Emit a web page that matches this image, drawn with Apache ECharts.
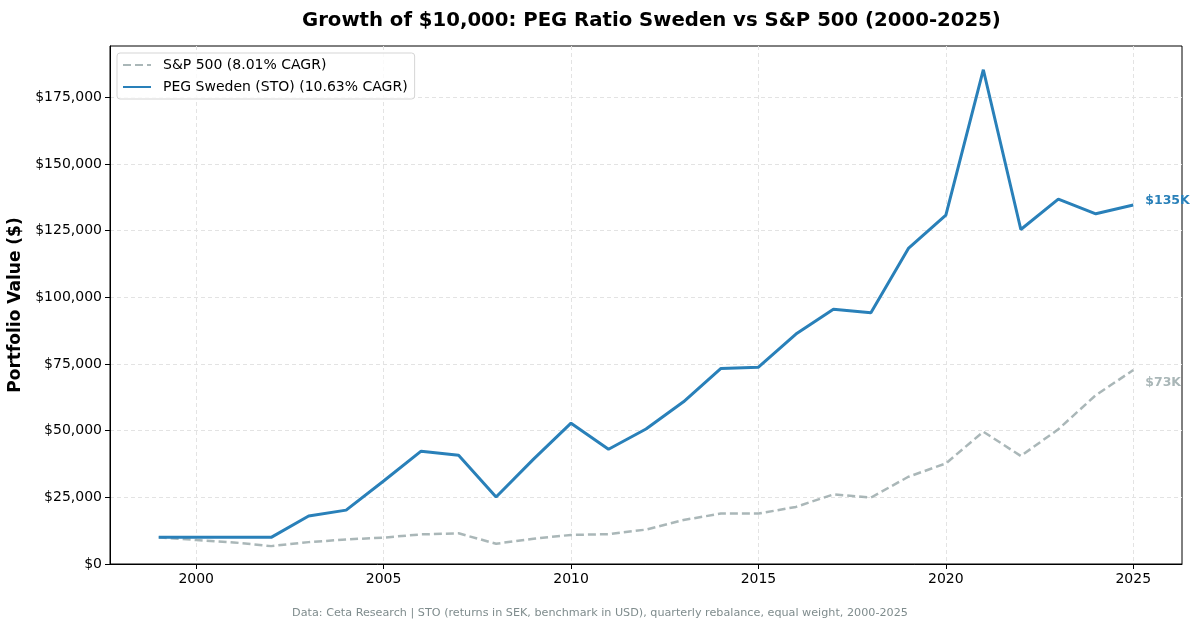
<!DOCTYPE html>
<html>
<head>
<meta charset="utf-8">
<script src="https://cdn.jsdelivr.net/npm/echarts@6/dist/echarts.min.js"></script>
<style>
html,body{margin:0;padding:0;background:#fff;}
#chart{width:1200px;height:628px;}
</style>
</head>
<body>
<div id="chart"></div>
<script>
const years = [1999,2000,2001,2002,2003,2004,2005,2006,2007,2008,2009,2010,2011,2012,2013,2014,2015,2016,2017,2018,2019,2020,2021,2022,2023,2024,2025];
const spValues = [10000,9000,8100,6700,8200,9200,9900,11100,11500,7600,9500,10900,11200,12900,16500,18900,18900,21400,26100,24900,32700,37700,49600,40500,50500,63300,72700];
const pegValues = [10000,10000,10000,10000,18000,20200,31100,42300,40800,25100,39300,52800,43000,50600,60800,73300,73800,86200,95500,94200,118300,130800,185300,125400,136800,131300,134600];
const xTickValues = [2000,2005,2010,2015,2020,2025];
const spName = 'S&P 500 (8.01% CAGR)';
const pegName = 'PEG Sweden (STO) (10.63% CAGR)';
const spEndLabel = '$73K';
const pegEndLabel = '$135K';

const font = 'DejaVu Sans';
const chart = echarts.init(document.getElementById('chart'), null, {renderer:'canvas'});
const pair = (xs, ys) => xs.map((x, i) => [x, ys[i]]);

chart.setOption({
  animation: false,
  backgroundColor: '#fff',
  title: [{
    text: 'Growth of $10,000: PEG Ratio Sweden vs S&P 500 (2000-2025)',
    left: 297, top: 6,
    textStyle: {fontFamily: font, fontWeight: 'bold', fontSize: 19.7, color: '#000'}
  }, {
    text: 'Data: Ceta Research | STO (returns in SEK, benchmark in USD), quarterly rebalance, equal weight, 2000-2025',
    left: 'center', top: 603,
    textStyle: {fontFamily: font, fontWeight: 'normal', fontSize: 11.2, color: '#7f8c8d'}
  }],
  grid: {left: 110, right: 18, top: 46, bottom: 64, outerBoundsMode: 'none', containLabel: false,
    show: true, borderColor: '#000', borderWidth: 1, backgroundColor: 'transparent'},
  legend: {
    orient: 'vertical', left: 117, top: 53,
    padding: [5, 7, 5, 5], itemGap: 8, itemWidth: 28, itemHeight: 14,
    backgroundColor: 'rgba(255,255,255,0.8)', borderColor: '#d5d5d5', borderWidth: 1, borderRadius: 3,
    textStyle: {fontFamily: font, fontSize: 14, color: '#000', padding: [0,0,0,7]},
    itemStyle: {opacity: 0},
    data: [spName, pegName]
  },
  xAxis: {
    type: 'value', min: 1997.7, max: 2026.3,
    axisLine: {show: true, lineStyle: {color: '#000', width: 1}},
    axisTick: {show: true, customValues: xTickValues, length: 5, lineStyle: {color: '#000'}},
    axisLabel: {customValues: xTickValues, fontFamily: font, fontSize: 14, color: '#000', margin: 8,
      formatter: v => String(v)},
    splitLine: {show: true, lineStyle: {color: '#e3e3e3', type: [4, 3], width: 1}}
  },
  yAxis: {
    type: 'value', min: 0, max: 194200, interval: 25000,
    name: 'Portfolio Value ($)', nameLocation: 'middle', nameGap: 84,
    nameTextStyle: {fontFamily: font, fontWeight: 'bold', fontSize: 17, color: '#000'},
    axisLine: {show: true, lineStyle: {color: '#000', width: 1}},
    axisTick: {show: true, length: 5, lineStyle: {color: '#000'}},
    axisLabel: {showMaxLabel: false, fontFamily: font, fontSize: 14, color: '#000', margin: 8,
      formatter: v => '$' + v.toLocaleString('en-US')},
    splitLine: {show: true, showMaxLine: false, lineStyle: {color: '#e3e3e3', type: [4, 3], width: 1}}
  },
  series: [{
    name: spName, type: 'line', data: pair(years, spValues), showSymbol: false, symbol: 'none',
    lineStyle: {color: '#95a5a6', width: 2.5, type: [8, 4], opacity: 0.8},
    itemStyle: {color: '#aab7b8'},
    endLabel: {show: true, formatter: spEndLabel, distance: 12, offset: [0, 13],
      fontFamily: font, fontWeight: 'bold', fontSize: 12.5, color: '#aab7b8'},
    z: 2
  }, {
    name: pegName, type: 'line', data: pair(years, pegValues), showSymbol: false, symbol: 'none',
    lineStyle: {color: '#2980b9', width: 3},
    itemStyle: {color: '#2980b9'},
    endLabel: {show: true, formatter: pegEndLabel, distance: 12, offset: [0, -4],
      fontFamily: font, fontWeight: 'bold', fontSize: 12.5, color: '#2980b9'},
    z: 3
  }]
});
</script>
</body>
</html>
